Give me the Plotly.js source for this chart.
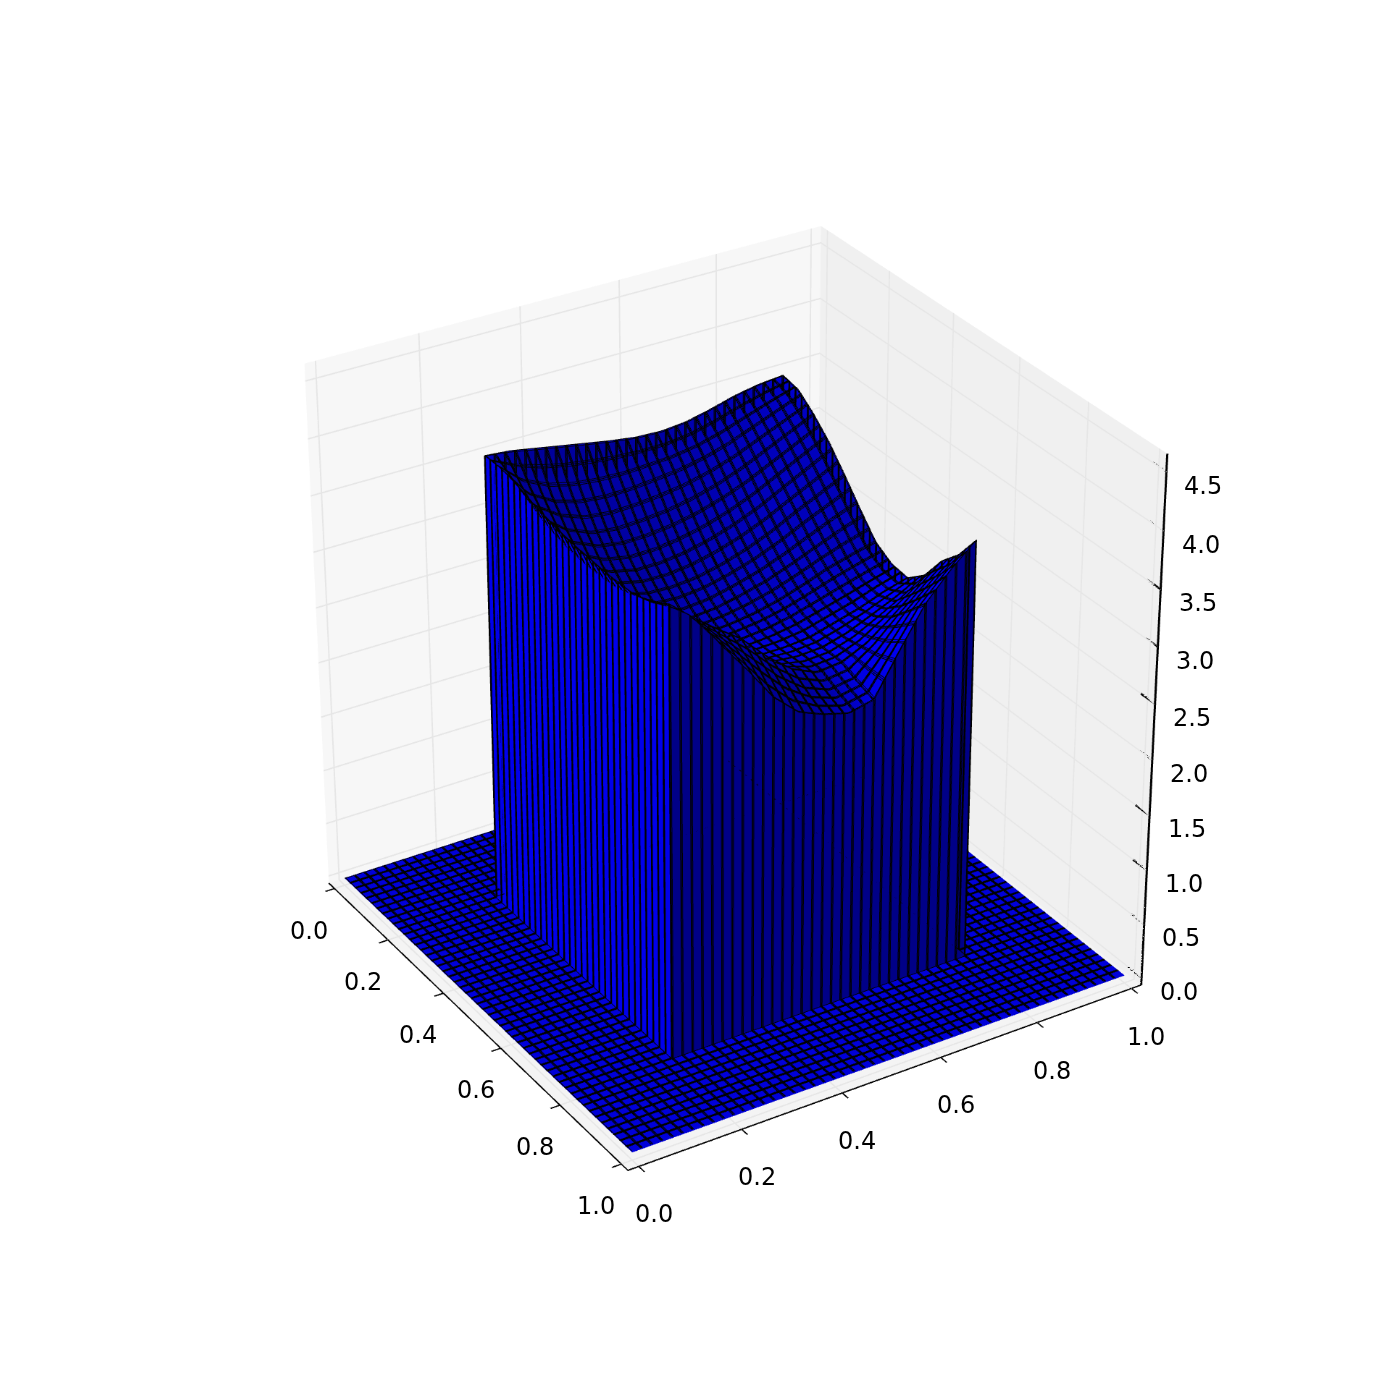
<!DOCTYPE html>
<html>
<head>
<meta charset="utf-8">
<script src="https://cdn.plot.ly/plotly-3.0.1.min.js"></script>
<style>
html, body { margin: 0; padding: 0; width: 1391px; height: 1389px; overflow: hidden; background: #fff; }
#chart { position: absolute; left: -1358px; top: -1405px; }
</style>
</head>
<body>
<div id="chart"></div>
<script>
// floor grid either side of the raised block, last knots are the foot of the walls
const floorLow = [0, 0.02, 0.04, 0.06, 0.08, 0.1, 0.12, 0.14, 0.16, 0.18, 0.1985, 0.199, 0.1995];
const floorHigh = [0.8005, 0.801, 0.8015, 0.82, 0.84, 0.86, 0.88, 0.9, 0.92, 0.94, 0.96, 0.98, 1];

// block top
const blockX = [0.2, 0.25, 0.3, 0.35, 0.4, 0.45, 0.5, 0.55, 0.6, 0.65, 0.7, 0.75, 0.8];
const blockY = [0.2, 0.25, 0.3, 0.35, 0.4, 0.45, 0.5, 0.55, 0.6, 0.65, 0.7, 0.75, 0.8];
const blockTop = [
    [4.02, 4.00, 3.96, 3.92, 3.88, 3.84, 3.81, 3.80, 3.82, 3.87, 3.93, 3.97, 3.99],
    [4.02, 3.78, 3.66, 3.60, 3.58, 3.58, 3.60, 3.62, 3.66, 3.72, 3.80, 3.88, 3.96],
    [4.00, 3.62, 3.45, 3.36, 3.33, 3.34, 3.36, 3.40, 3.46, 3.54, 3.64, 3.74, 3.84],
    [3.95, 3.50, 3.28, 3.17, 3.12, 3.12, 3.15, 3.20, 3.27, 3.36, 3.47, 3.58, 3.69],
    [3.91, 3.42, 3.17, 3.03, 2.97, 2.96, 2.98, 3.03, 3.10, 3.19, 3.30, 3.40, 3.50],
    [3.88, 3.38, 3.10, 2.93, 2.85, 2.83, 2.85, 2.90, 2.96, 3.04, 3.13, 3.22, 3.30],
    [3.86, 3.37, 3.07, 2.90, 2.80, 2.76, 2.77, 2.80, 2.85, 2.92, 3.00, 3.06, 3.11],
    [3.85, 3.39, 3.10, 2.93, 2.80, 2.73, 2.72, 2.74, 2.78, 2.84, 2.90, 2.96, 3.02],
    [3.84, 3.44, 3.17, 3.00, 2.84, 2.74, 2.72, 2.72, 2.74, 2.80, 2.86, 2.94, 3.00],
    [3.84, 3.55, 3.30, 3.12, 3.00, 2.88, 2.76, 2.73, 2.74, 2.80, 2.90, 3.00, 3.13],
    [3.85, 3.72, 3.55, 3.38, 3.22, 3.00, 2.82, 2.72, 2.74, 2.84, 3.00, 3.18, 3.36],
    [3.90, 3.78, 3.55, 3.33, 3.10, 2.88, 2.72, 2.64, 2.68, 2.90, 3.16, 3.36, 3.52],
    [4.00, 3.81, 3.51, 3.23, 2.93, 2.73, 2.64, 2.58, 2.63, 2.99, 3.33, 3.56, 3.75]
];

const axisTicks = [0, 0.2, 0.4, 0.6, 0.8, 1];
const zTicks = [0, 0.5, 1, 1.5, 2, 2.5, 3, 3.5, 4, 4.5];

const xyRange = [-0.021, 1.021];
const zRange = [-0.07, 4.65];

const xGrid = floorLow.concat(blockX, floorHigh);
const yGrid = floorLow.concat(blockY, floorHigh);

// which block row a grid knot belongs to, -1 when it is on the floor
function blockIndex(v) {
    if (v < 0.1995 || v > 0.8005) return -1;
    if (v < 0.2) return 0;
    if (v > 0.8) return blockX.length - 1;
    return blockX.indexOf(v);
}

function knotZ(x, y) {
    const i = blockIndex(x);
    const j = blockIndex(y);
    if (i < 0 || j < 0) return 0;
    return blockTop[i][j];
}

// same shading rule as mplot3d: face normal against a light from (-1,-1,1)
function topShade(i, j) {
    const n = blockX.length - 1;
    const i0 = Math.max(i - 1, 0), i1 = Math.min(i + 1, n);
    const j0 = Math.max(j - 1, 0), j1 = Math.min(j + 1, n);
    const zx = (blockTop[i1][j] - blockTop[i0][j]) / (blockX[i1] - blockX[i0]);
    const zy = (blockTop[i][j1] - blockTop[i][j0]) / (blockY[j1] - blockY[j0]);
    const s = (zx + zy + 1) / (Math.sqrt(3) * Math.sqrt(zx * zx + zy * zy + 1));
    return 0.75 + 0.25 * s;
}

const floorShade = 0.85;
const leftWallShade = 0.92;
const rightWallShade = 0.53;

function knotShade(x, y) {
    if (x < 0.1986 || x > 0.8014 || y < 0.1986 || y > 0.8014) return floorShade;
    if (x > 0.8) return rightWallShade;
    if (y < 0.2 || y > 0.8) return leftWallShade;
    if (x < 0.2) return rightWallShade;
    return topShade(blockIndex(x), blockIndex(y));
}

const zGrid = yGrid.map(function (y) {
    return xGrid.map(function (x) { return knotZ(x, y); });
});
const shadeGrid = yGrid.map(function (y) {
    return xGrid.map(function (x) { return knotShade(x, y); });
});

// contour lines stay 1px whatever the width says in this renderer, so the same
// surface is drawn a few times with the lines nudged to get the heavy mesh
const lineNudges = [0, -0.0018, 0.0018];
const surfaces = lineNudges.map(function (nudge) {
    const lines = { show: true, start: nudge, end: 1 + nudge, size: 0.02, color: "#000", width: 2, highlight: false };
    return {
        type: "surface",
        x: xGrid,
        y: yGrid,
        z: zGrid,
        surfacecolor: shadeGrid,
        cmin: 0,
        cmax: 1,
        colorscale: [[0, "#000000"], [1, "#0000ff"]],
        showscale: false,
        hoverinfo: "skip",
        lighting: { ambient: 1, diffuse: 0, specular: 0, roughness: 1, fresnel: 0 },
        contours: {
            x: lines,
            y: lines,
            z: { show: false, highlight: false }
        }
    };
});

// plotly keeps its z axis on the left, so the right hand one is a line trace
const zLineX = [xyRange[1], xyRange[1]];
const zLineY = [xyRange[1], xyRange[1]];
const zLineZ = [zRange[0], zRange[1]];
zTicks.forEach(function (t) {
    zLineX.push(null, xyRange[1] - 0.04, xyRange[1]);
    zLineY.push(null, xyRange[1], xyRange[1]);
    zLineZ.push(null, t, t);
});
const zAxisLine = {
    type: "scatter3d",
    mode: "lines",
    x: zLineX,
    y: zLineY,
    z: zLineZ,
    line: { color: "#000", width: 3 },
    hoverinfo: "skip",
    showlegend: false
};

function sceneAxis(range, ticks, bg, drawn) {
    return {
        range: range,
        tickvals: ticks,
        showticklabels: false,
        title: { text: "" },
        showbackground: true,
        backgroundcolor: bg,
        gridcolor: "#e6e6e6",
        gridwidth: 2,
        zeroline: false,
        showline: drawn,
        linecolor: "#000",
        linewidth: 2,
        ticks: drawn ? "outside" : "",
        ticklen: 6,
        tickcolor: "#000",
        tickwidth: 2,
        showspikes: false
    };
}

// tick labels as annotations so they are real 24px text where the reference has them
function tickLabel(x, y, z, t, dx, dy) {
    return {
        x: x, y: y, z: z,
        text: t.toFixed(1),
        showarrow: false,
        xanchor: "center",
        yanchor: "middle",
        xshift: dx,
        yshift: dy,
        font: { family: "DejaVu Sans", size: 24, color: "#000" }
    };
}
const labels = [];
axisTicks.forEach(function (t) {
    labels.push(tickLabel(t, xyRange[0], zRange[0], t, -25, -42));
    labels.push(tickLabel(xyRange[1], t, zRange[0], t, 15, -48));
});
zTicks.forEach(function (t) {
    labels.push(tickLabel(xyRange[1], xyRange[1], t, t, 37, -14));
});

const dist = 8.3;
const layout = {
    width: 1391 * 3,
    height: 1389 * 3,
    margin: { l: 0, r: 0, t: 0, b: 0 },
    paper_bgcolor: "#fff",
    showlegend: false,
    scene: {
        domain: { x: [0, 1], y: [0, 1] },
        aspectmode: "manual",
        aspectratio: { x: 1, y: 1, z: 1 },
        camera: {
            eye: { x: 0.734 * dist, y: -0.459 * dist, z: 0.5 * dist },
            center: { x: 0, y: 0, z: 0 },
            up: { x: 0, y: 0, z: 1 }
        },
        xaxis: sceneAxis(xyRange, axisTicks, "#f7f7f7", true),
        yaxis: sceneAxis(xyRange, axisTicks, "#f0f0f0", true),
        zaxis: sceneAxis(zRange, zTicks, "#f4f4f4", false),
        annotations: labels
    }
};

Plotly.newPlot("chart", surfaces.concat([zAxisLine]), layout, { displayModeBar: false });
</script>
</body>
</html>
